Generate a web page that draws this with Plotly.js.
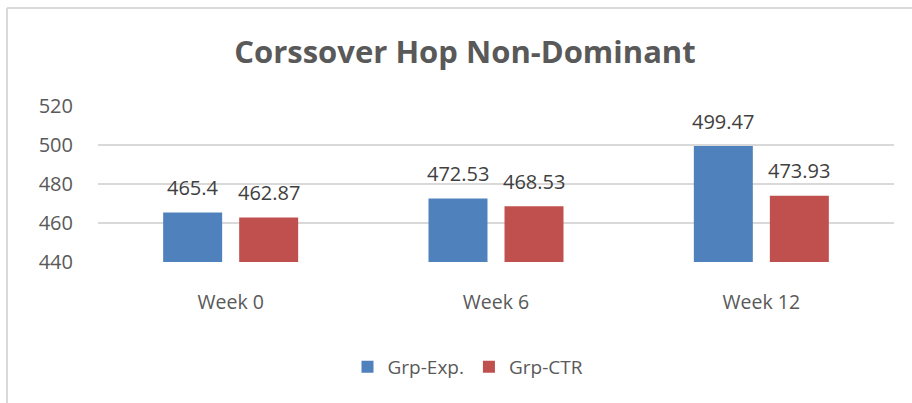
<!DOCTYPE html>
<html>
<head>
<meta charset="utf-8">
<script src="https://cdn.plot.ly/plotly-3.0.1.min.js"></script>
<style>html,body{margin:0;padding:0;background:#fff;}#chart{width:912px;height:403px;}</style>
</head>
<body>
<div id="chart"></div>
<script>
const categories = ["Week 0", "Week 6", "Week 12"];
const seriesNames = ["Grp-Exp.", "Grp-CTR"];
const expValues = [465.4, 472.53, 499.47];
const ctrValues = [462.87, 468.53, 473.93];
const yTicks = [440, 460, 480, 500, 520];

const colors = ["#4F81BD", "#C0504D"];
const FONT = "Open Sans, sans-serif";

const traces = [expValues, ctrValues].map((vals, i) => ({
  type: "bar",
  name: seriesNames[i],
  x: categories,
  y: vals,
  base: 0,
  marker: {color: colors[i]},
  hoverinfo: "none"
}));

const annotations = [];
[expValues, ctrValues].forEach((vals, i) => {
  vals.forEach((v, j) => {
    annotations.push({
      x: categories[j], y: v, xref: "x", yref: "y",
      text: String(v), showarrow: false,
      xshift: i === 0 ? -38 : 38, yshift: 25,
      yanchor: "middle", xanchor: "center",
      font: {family: FONT, size: 20, color: "#404040"}
    });
  });
});

const layout = {
  width: 912, height: 403,
  margin: {l: 98, r: 18, t: 106, b: 141, pad: 0},
  paper_bgcolor: "#fff", plot_bgcolor: "#fff",
  barmode: "group", bargap: 0.427, bargroupgap: 0.224,
  title: {
    text: "<b>Corssover Hop Non-Dominant</b>",
    font: {family: FONT, size: 31, color: "#595959"},
    x: 465 / 912, xref: "container", xanchor: "center",
    y: 1 - 52 / 403, yref: "container", yanchor: "middle"
  },
  xaxis: {
    type: "category", showgrid: false, zeroline: false, showline: false,
    ticks: "", ticklabelstandoff: 26,
    tickfont: {family: FONT, size: 19.5, color: "#595959"}
  },
  yaxis: {
    range: [440, 520], tickvals: yTicks, ticktext: yTicks.map(String),
    showgrid: true, gridcolor: "#D9D9D9", gridwidth: 1.5,
    zeroline: false, showline: false, ticks: "", ticklabelstandoff: 24,
    tickfont: {family: FONT, size: 20, color: "#595959"}
  },
  showlegend: true,
  legend: {
    orientation: "h", xref: "container", yref: "container",
    x: 468 / 912, xanchor: "center", y: 1 - 367 / 403, yanchor: "middle",
    font: {family: FONT, size: 19, color: "#595959"},
    itemwidth: 30, traceorder: "normal"
  },
  annotations: annotations,
  shapes: [
    {type: "line", xref: "paper", yref: "paper",
     x0: -91 / 796, x1: 1 + 18 / 796, y0: 1 + 98 / 156, y1: 1 + 98 / 156,
     line: {color: "#D9D9D9", width: 2}},
    {type: "line", xref: "paper", yref: "paper",
     x0: -91 / 796, x1: -91 / 796, y0: 1 + 98 / 156, y1: -141 / 156,
     line: {color: "#D9D9D9", width: 2}}
  ]
};

Plotly.newPlot("chart", traces, layout, {staticPlot: true, displayModeBar: false});
</script>
</body>
</html>
